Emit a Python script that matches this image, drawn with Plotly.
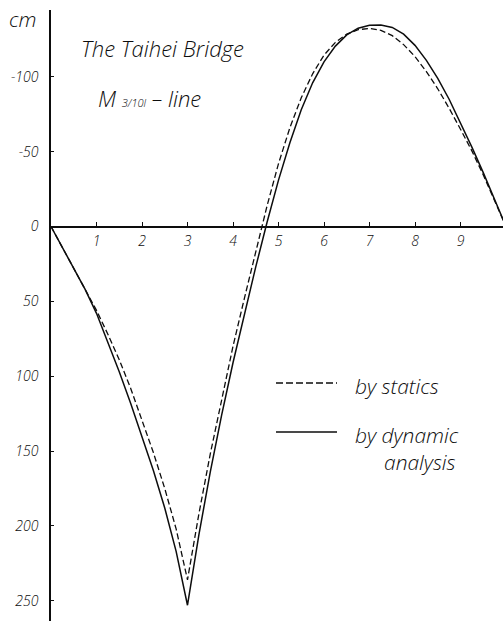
import plotly.graph_objects as go

# Influence line of the bending moment at 3/10 of the span, Taihei Bridge
x_pos = [0, 0.25, 0.5, 0.75, 1.0, 1.25, 1.5, 1.75, 2.0, 2.25, 2.5, 2.75, 3.0,
         3.25, 3.5, 3.75, 4.0, 4.25, 4.5, 4.75, 5.0, 5.25, 5.5, 5.75, 6.0,
         6.25, 6.5, 6.75, 7.0, 7.25, 7.5, 7.75, 8.0, 8.25, 8.5, 8.75, 9.0,
         9.25, 9.5, 9.75, 10.0]

by_statics = [0, 14, 28, 42, 56, 72, 89, 108, 129, 151, 175, 202, 236,
              192, 152, 115, 80, 48, 17, -14, -42, -66, -86, -102, -114.5,
              -123, -128.5, -131.5, -132.3, -131, -127.5, -121.5, -113.5,
              -103.5, -92, -79, -65, -50.5, -34.5, -17.5, 0]

by_dynamic = [0, 14, 28, 42, 58, 77, 97, 118, 140, 163, 188, 217, 253,
              206, 164, 126, 91, 58, 27, -3, -31, -56, -78, -96, -110,
              -120.5, -128, -132.5, -134.5, -134.6, -133, -128.5, -121,
              -111, -99, -85, -69.5, -53, -36, -18, 0]

x_ticks = [1, 2, 3, 4, 5, 6, 7, 8, 9]
y_ticks = [-100, -50, 0, 50, 100, 150, 200, 250]
y_tick_text = ["-100", "-50", "0", "50", "100", "150", "200", "250"]

W, H = 503, 621
ML, MT = 51, 10
PW, PH = W - ML, H - MT
X_SCALE = 45.5    # px per span tenth
Y_SCALE = 1.497   # px per cm
Y_ZERO = 226.5    # px of the zero line

x_max = PW / X_SCALE
y_top = -(Y_ZERO - MT) / Y_SCALE
y_bot = (H - Y_ZERO) / Y_SCALE
ink = "#0d0d0d"
FONT = "Open Sans"


def px(xp):
    return (xp - ML) / PW


def py(yp):
    return 1 - (yp - MT) / PH


fig = go.Figure()
fig.add_trace(go.Scatter(x=x_pos, y=by_statics, mode="lines",
                         line=dict(color=ink, width=1.3, dash="6px,3px"),
                         showlegend=False))
fig.add_trace(go.Scatter(x=x_pos, y=by_dynamic, mode="lines",
                         line=dict(color=ink, width=1.5),
                         showlegend=False))

fig.update_layout(
    width=W, height=H,
    margin=dict(l=ML, r=0, t=MT, b=0, pad=0),
    paper_bgcolor="white", plot_bgcolor="white",
    font=dict(family=FONT, color=ink, size=12, style="italic", weight=300),
    xaxis=dict(range=[0, x_max], showgrid=False, zeroline=False,
               showline=True, linecolor=ink, linewidth=1.5,
               anchor="free", position=(H - Y_ZERO) / PH,
               tickmode="array", tickvals=x_ticks,
               ticks="inside", ticklen=4, tickcolor=ink, tickwidth=1,
               tickfont=dict(size=14), ticklabelstandoff=2),
    yaxis=dict(range=[y_bot, y_top], showgrid=False, zeroline=False,
               showline=True, linecolor=ink, linewidth=1.5,
               tickmode="array", tickvals=y_ticks, ticktext=y_tick_text,
               ticks="inside", ticklen=3, tickcolor=ink, tickwidth=1,
               tickfont=dict(size=14), ticklabelstandoff=8),
)

text_font = dict(family=FONT, color=ink, style="italic", weight=300)

fig.add_annotation(text="cm", xref="paper", yref="paper",
                   x=px(7), y=py(19), xanchor="left", yanchor="middle",
                   showarrow=False,
                   font=dict(family=FONT, color=ink, size=21, weight=300))
fig.add_annotation(text="The Taihei Bridge", xref="paper", yref="paper",
                   x=px(79), y=py(48), xanchor="left", yanchor="middle",
                   showarrow=False, font=dict(text_font, size=22))
fig.add_annotation(text="M <span style='font-size:11px'>3/10l</span> – line",
                   xref="paper", yref="paper",
                   x=px(96), y=py(98), xanchor="left", yanchor="middle",
                   showarrow=False, font=dict(text_font, size=22))

# legend keys
fig.add_shape(type="line", xref="paper", yref="paper",
              x0=px(276), x1=px(337), y0=py(383), y1=py(383),
              line=dict(color=ink, width=1.3, dash="7px,3px"))
fig.add_shape(type="line", xref="paper", yref="paper",
              x0=px(276), x1=px(337), y0=py(432), y1=py(432),
              line=dict(color=ink, width=1.5))
fig.add_annotation(text="by statics", xref="paper", yref="paper",
                   x=px(353), y=py(386), xanchor="left", yanchor="middle",
                   showarrow=False, font=dict(text_font, size=21))
fig.add_annotation(text="by dynamic", xref="paper", yref="paper",
                   x=px(353), y=py(435), xanchor="left", yanchor="middle",
                   showarrow=False, font=dict(text_font, size=21))
fig.add_annotation(text="analysis", xref="paper", yref="paper",
                   x=px(382), y=py(462), xanchor="left", yanchor="middle",
                   showarrow=False, font=dict(text_font, size=21))

fig.write_html("out.html")
